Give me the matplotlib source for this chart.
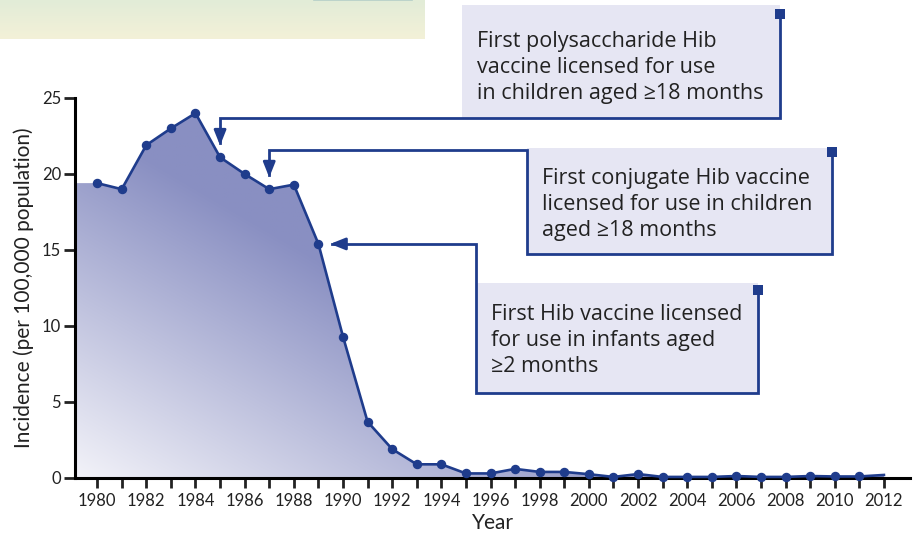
import matplotlib
matplotlib.use("Agg")
import matplotlib.pyplot as plt
import numpy as np
from matplotlib.patches import Rectangle, FancyArrowPatch
from matplotlib.lines import Line2D

plt.rcParams['font.family'] = ['Lato', 'DejaVu Sans']
note_font = ['Open Sans', 'DejaVu Sans']

years = list(range(1980, 2013))
incidence = [19.4, 19.0, 21.9, 23.0, 24.0, 21.1, 20.0, 19.0, 19.3, 15.4,
             9.3, 3.7, 1.9, 0.9, 0.9, 0.3, 0.3, 0.6, 0.4, 0.4,
             0.25, 0.07, 0.26, 0.07, 0.07, 0.07, 0.13, 0.07, 0.07, 0.13,
             0.1, 0.1, 0.2]
tick_years = list(range(1980, 2013, 2))
y_ticks = [0, 5, 10, 15, 20, 25]

notes = [
    "First polysaccharide Hib\nvaccine licensed for use\nin children aged \u226518 months",
    "First conjugate Hib vaccine\nlicensed for use in children\naged \u226518 months",
    "First Hib vaccine licensed\nfor use in infants aged\n\u22652 months",
]
note_years = [1985, 1987, 1989]

W, H = 920, 534
fig = plt.figure(figsize=(W / 100, H / 100), dpi=100)


def fx(x):
    return x / W


def fy(y):
    return 1 - y / H


# decorative banner top-left
grad = np.linspace(0, 1, 50).reshape(-1, 1)
top_c = np.array([226, 236, 215]) / 255
bot_c = np.array([243, 241, 216]) / 255
banner = top_c + (bot_c - top_c) * grad[..., None]
bax = fig.add_axes([0, fy(39), fx(425), 39 / H])
bax.imshow(banner, aspect='auto', extent=[0, 1, 0, 1])
bax.set_xlim(0, 1)
bax.set_ylim(0, 1)
bax.plot([0.74, 0.97], [0.99, 0.99], color='#b5cfc8', lw=1.2)
bax.axis('off')

ax = fig.add_axes([fx(75), fy(478), fx(910 - 75), (478 - 98) / H])
xmin, xmax = 1979.1, 2013.06
ax.set_xlim(xmin, xmax)
ax.set_ylim(0, 25)

# gradient area
fill_x = [xmin] + years
fill_y = [incidence[0]] + incidence
poly = ax.fill_between(fill_x, fill_y, 0, color='none', lw=0)
gu, gv = np.meshgrid(np.linspace(0, xmax - xmin, 400), np.linspace(0, 25, 300))
t = np.clip(0.04 * gu + 0.042 * gv, 0, 1)
light = np.array([243, 243, 249]) / 255
dark = np.array([137, 143, 194]) / 255
img = light + (dark - light) * t[..., None]
im = ax.imshow(img, extent=[xmin, xmax, 0, 25], origin='lower',
               aspect='auto', zorder=1)
im.set_clip_path(poly.get_paths()[0], transform=ax.transData)

line_c = '#1f3c8c'
ax.plot(years, incidence, color=line_c, lw=1.9, marker='o', ms=5.8,
        markevery=list(range(len(years) - 1)), zorder=3, clip_on=False)

for s in ['top', 'right']:
    ax.spines[s].set_visible(False)
for s in ['left', 'bottom']:
    ax.spines[s].set_linewidth(2.2)
ax.set_xticks(years, minor=False)
ax.set_xticklabels([str(y) if y in tick_years else '' for y in years])
ax.set_yticks(y_ticks)
ax.tick_params(axis='x', length=7, width=2, labelsize=12, pad=4, colors='#222222')
ax.tick_params(axis='y', length=8, width=2, labelsize=12, pad=2, colors='#222222')
ax.set_xlabel('Year', fontsize=15, color='#222222', labelpad=3)
ax.set_ylabel('Incidence (per 100,000 population)', fontsize=15,
              color='#222222', labelpad=6)

# annotation boxes
box_fill = '#e6e6f3'
boxes = [(462, 5, 780, 118), (527, 148, 832, 254), (476, 283, 758, 393)]
text_pos = [(477, 31), (542, 168), (491, 304)]
for (x0, y0, x1, y1) in boxes:
    fig.patches.append(Rectangle((fx(x0), fy(y1)), fx(x1 - x0), (y1 - y0) / H,
                                 transform=fig.transFigure, facecolor=box_fill,
                                 edgecolor='none', zorder=0))
for txt, (tx, ty) in zip(notes, text_pos):
    fig.text(fx(tx), fy(ty), txt, fontsize=15.5, va='top', ha='left',
             color='#222222', linespacing=1.3, family=note_font)

fig.canvas.draw()
tips = []
for yr in note_years:
    px, py = ax.transData.transform((yr, incidence[years.index(yr)]))
    tips.append((px, H - py))

lw = 2.0
paths = []
# box 1
tx, ty = tips[0]
paths.append(([tx, tx, 780, 780], [ty - 14, 118, 118, 14]))
# box 2
tx, ty = tips[1]
paths.append(([tx, tx, 527, 527, 832, 832], [ty - 14, 150, 150, 254, 254, 152]))
# box 3
tx, ty = tips[2]
paths.append(([tx + 14, 476, 476, 758, 758], [ty, ty, 393, 393, 290]))
for xs, ys in paths:
    fig.add_artist(Line2D([fx(v) for v in xs], [fy(v) for v in ys],
                          transform=fig.transFigure, color=line_c, lw=lw,
                          solid_joinstyle='miter'))

heads = [((tips[0][0], tips[0][1] - 30), (tips[0][0], tips[0][1] - 9)),
         ((tips[1][0], tips[1][1] - 30), (tips[1][0], tips[1][1] - 9)),
         ((tips[2][0] + 30, tips[2][1]), (tips[2][0] + 9, tips[2][1]))]
for (sx, sy), (ex, ey) in heads:
    fig.add_artist(FancyArrowPatch((fx(sx), fy(sy)), (fx(ex), fy(ey)),
                                   transform=fig.transFigure,
                                   arrowstyle='-|>,head_length=9,head_width=3.6',
                                   color=line_c, lw=lw, mutation_scale=1))

for (x0, y0, x1, y1), sq_y in zip(boxes, [14, 152, 290]):
    fig.patches.append(Rectangle((fx(x1 - 5), fy(sq_y + 5)), fx(10), 10 / H,
                                 transform=fig.transFigure, facecolor=line_c,
                                 edgecolor='none', zorder=5))

fig.savefig('out.png', dpi=100)
